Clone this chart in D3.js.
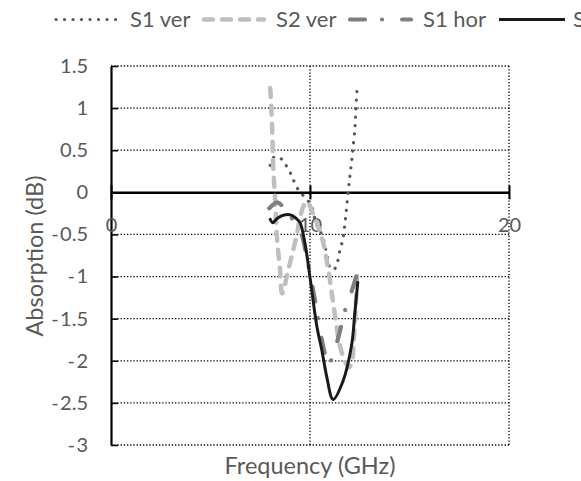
<!DOCTYPE html>
<html>
<head>
<meta charset="utf-8">
<script src="https://cdn.jsdelivr.net/npm/d3@7"></script>
<style>
  body { margin: 0; background: #fff; }
  text { font-family: Lato, "Open Sans", sans-serif; fill: #595959; }
</style>
</head>
<body>
<svg id="chart" width="581" height="481"></svg>
<script>
// frequencies (GHz) and absorption (dB)
const s1VerFreq = [8.0, 8.2, 8.6, 8.85, 9.1, 9.25, 9.5, 9.8, 10.1, 10.3, 10.55, 10.7, 10.8, 10.9, 11.0, 11.15, 11.3, 11.5, 11.66, 11.76, 11.86, 12.0, 12.1, 12.16, 12.26, 12.3, 12.36];
const s1VerVal  = [0.32, 0.42, 0.39, 0.30, 0.19, 0.10, 0.0, -0.07, -0.18, -0.37, -0.48, -0.58, -0.69, -0.80, -0.89, -0.92, -0.89, -0.69, -0.55, -0.36, -0.13, 0.18, 0.38, 0.52, 0.77, 0.98, 1.21];

const s2VerFreq = [8.0, 8.05, 8.1, 8.15, 8.25, 8.35, 8.5, 8.6, 8.9, 9.15, 9.35, 9.5, 9.7, 9.85, 10.15, 10.6, 10.9, 11.15, 11.5, 11.7, 11.95, 12.1, 12.2, 12.3, 12.36];
const s2VerVal  = [1.24, 1.04, 0.74, 0.31, -0.10, -0.57, -0.93, -1.20, -0.93, -0.69, -0.49, -0.30, -0.15, -0.11, -0.25, -0.54, -0.89, -1.29, -1.82, -1.97, -2.08, -2.02, -1.75, -1.35, -0.97];

const s1HorFreq = [7.95, 8.35, 8.6, 9.0, 9.5, 9.9, 10.3, 10.55, 10.85, 10.95, 11.2, 11.45, 11.6, 11.85, 12.1, 12.36];
const s1HorVal  = [-0.19, -0.12, -0.16, -0.28, -0.45, -0.85, -1.35, -1.7, -2.0, -2.04, -1.9, -1.7, -1.55, -1.33, -1.17, -0.97];

const s2HorFreq = [8.0, 8.12, 8.35, 8.7, 9.05, 9.3, 9.5, 9.75, 10.0, 10.35, 10.6, 10.85, 11.16, 11.66, 12.1, 12.25, 12.4];
const s2HorVal  = [-0.32, -0.36, -0.31, -0.27, -0.27, -0.31, -0.36, -0.61, -1.01, -1.6, -1.88, -2.2, -2.46, -2.24, -1.8, -1.44, -1.07];

const legendLabels = ['S1 ver', 'S2 ver', 'S1 hor', 'S2 hor'];
const xTicks = [0, 10, 20];
const yTicks = [-3, -2.5, -2, -1.5, -1, -0.5, 0, 0.5, 1, 1.5];

const series = [
    {name: legendLabels[0], f: s1VerFreq, v: s1VerVal, color: '#595959', width: 3.2, dash: '0.1 8.4'},
    {name: legendLabels[1], f: s2VerFreq, v: s2VerVal, color: '#bfbfbf', width: 4.5, dash: '9 9'},
    {name: legendLabels[2], f: s1HorFreq, v: s1HorVal, color: '#7f7f7f', width: 4.2, dash: '15 17 0.1 20'},
    {name: legendLabels[3], f: s2HorFreq, v: s2HorVal, color: '#1a1a1a', width: 3, dash: null}
];

const svg = d3.select('#chart');

const x = d3.scaleLinear().domain([0, 20]).range([111, 509]);
const y = d3.scaleLinear().domain([-3, 1.5]).range([445, 66]);

// dotted grid
const grid = svg.append('g');
grid.selectAll('line.h')
    .data(yTicks.filter(d => d !== 0))
    .enter().append('line')
    .attr('x1', x(0)).attr('x2', x(20))
    .attr('y1', d => y(d)).attr('y2', d => y(d))
    .attr('stroke', '#000').attr('stroke-width', 1.3)
    .attr('stroke-dasharray', '1.3 1.9');
grid.selectAll('line.v')
    .data([10, 20])
    .enter().append('line')
    .attr('x1', d => x(d)).attr('x2', d => x(d))
    .attr('y1', y(1.5)).attr('y2', y(-3))
    .attr('stroke', '#000').attr('stroke-width', 1.3)
    .attr('stroke-dasharray', '1.3 1.9');

// y axis, ticks pointing inward
const yAxis = svg.append('g')
    .attr('transform', `translate(${x(0)},0)`)
    .call(d3.axisLeft(y).tickValues(yTicks).tickFormat(d => String(d))
        .tickSizeInner(-7).tickSizeOuter(0).tickPadding(23));
yAxis.select('.domain').attr('stroke', '#000').attr('stroke-width', 2.2);
yAxis.selectAll('.tick line').attr('stroke', '#000').attr('stroke-width', 1.5);
yAxis.selectAll('.tick text')
    .attr('font-size', 20).style('font-family', 'Lato').attr('fill', '#595959')
    .each(function(d) {
        // the original minus sign sits a little apart from the digits
        if (d >= 0) return;
        const t = d3.select(this);
        const s = String(d);
        t.text('');
        t.append('tspan').text('-');
        t.append('tspan').attr('dx', 1.5).text(s.slice(1));
    });

// x axis at y = 0, ticks crossing the line
const xAxis = svg.append('g')
    .attr('transform', `translate(0,${y(0)})`)
    .call(d3.axisBottom(x).tickValues(xTicks).tickFormat(d => String(d))
        .tickSizeInner(7).tickSizeOuter(0).tickPadding(18));
xAxis.select('.domain').attr('stroke', '#000').attr('stroke-width', 2.5);
xAxis.selectAll('.tick line').attr('y1', -7).attr('stroke', '#000').attr('stroke-width', 2);
xAxis.selectAll('.tick text').attr('font-size', 20).style('font-family', 'Lato').attr('fill', '#595959');

// series
const line = d3.line()
    .x(d => x(d[0]))
    .y(d => y(d[1]))
    .curve(d3.curveCatmullRom.alpha(0.5));

series.forEach(s => {
    svg.append('path')
        .datum(d3.zip(s.f, s.v))
        .attr('d', line)
        .attr('fill', 'none')
        .attr('stroke', s.color)
        .attr('stroke-width', s.width)
        .attr('stroke-linecap', 'round')
        .attr('stroke-linejoin', 'round')
        .attr('stroke-dasharray', s.dash);
});

// axis titles
svg.append('text')
    .attr('x', 310).attr('y', 474)
    .attr('text-anchor', 'middle')
    .attr('font-size', 23.5)
    .text('Frequency (GHz)');

svg.append('text')
    .attr('transform', 'translate(43,256) rotate(-90)')
    .attr('text-anchor', 'middle')
    .attr('font-size', 23.5)
    .text('Absorption (dB)');

// legend (last entry runs off the right edge, as in the original)
const legendLineX = [[54, 119], [202, 266], [348, 413], [497, 567]];
const legendTextX = [130, 276, 423, 573];
const legend = svg.append('g');
series.forEach((s, i) => {
    legend.append('line')
        .attr('x1', legendLineX[i][0] + 2).attr('x2', legendLineX[i][1] - 2)
        .attr('y1', 19.5).attr('y2', 19.5)
        .attr('stroke', s.color)
        .attr('stroke-width', s.width)
        .attr('stroke-linecap', s.dash ? 'round' : 'butt')
        .attr('stroke-dasharray', s.dash);
    legend.append('text')
        .attr('x', legendTextX[i]).attr('y', 27)
        .attr('font-size', 22)
        .text(s.name);
});
</script>
</body>
</html>
